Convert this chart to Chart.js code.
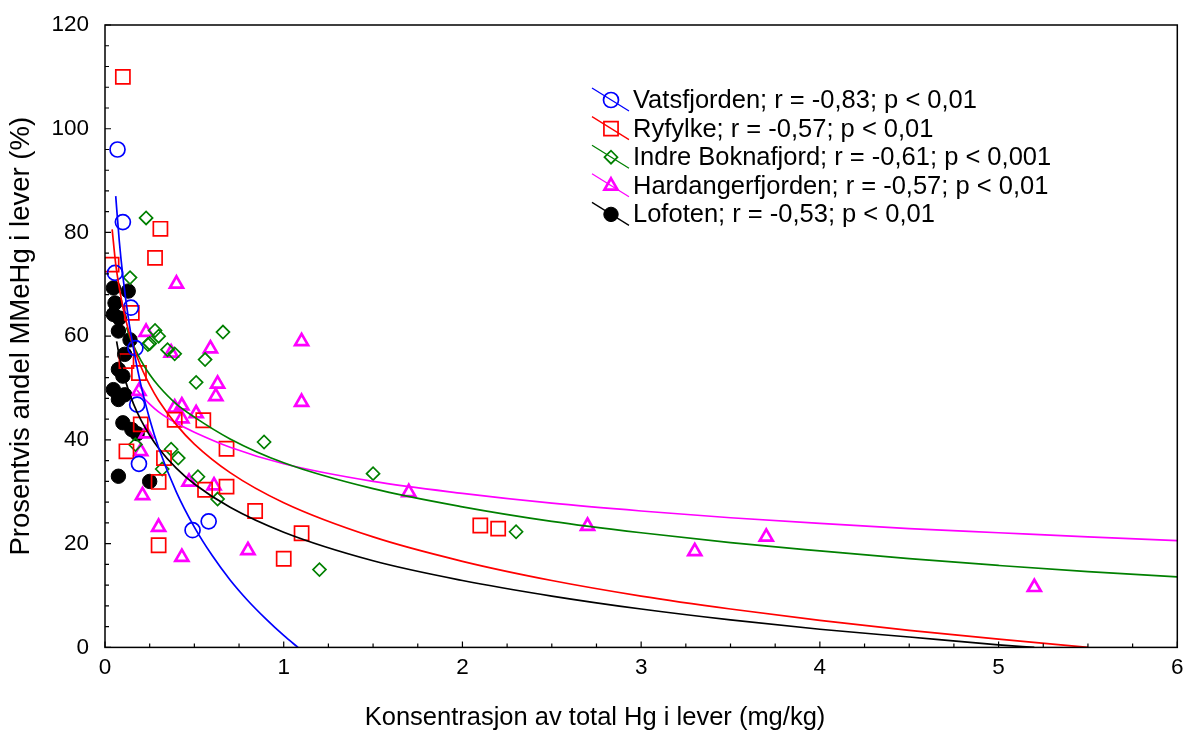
<!DOCTYPE html>
<html>
<head>
<meta charset="utf-8">
<script src="https://cdn.jsdelivr.net/npm/chart.js@4/dist/chart.umd.min.js"></script>
<style>
html, body { margin: 0; padding: 0; background: #fff; }
</style>
</head>
<body>
<canvas id="myChart" width="1189" height="733"></canvas>
<script>
// observed points (x = total Hg mg/kg, y = % MeHg)
var vatsX = [0.07, 0.10, 0.056, 0.145, 0.17, 0.18, 0.19, 0.49, 0.58];
var vatsY = [96, 82, 72.2, 65.5, 57.7, 46.8, 35.4, 22.6, 24.3];

var ryfX = [0.10, 0.31, 0.28, 0.037, 0.15, 0.19, 0.12, 0.39, 0.55, 0.20, 0.12, 0.33, 0.68, 0.30, 0.56, 0.68, 0.84, 1.10, 0.30, 1.00, 2.10, 2.20];
var ryfY = [110, 80.7, 75.1, 73.8, 64.5, 52.9, 55.2, 43.9, 43.8, 43, 37.8, 36.5, 38.3, 31.9, 30.4, 31.0, 26.3, 22.0, 19.7, 17.1, 23.5, 22.9];

var bokX = [0.23, 0.14, 0.28, 0.30, 0.24, 0.66, 0.35, 0.39, 0.56, 0.51, 0.25, 0.89, 0.17, 0.37, 0.41, 0.32, 0.52, 0.63, 1.20, 1.50, 2.30];
var bokY = [82.8, 71.3, 61.1, 60.0, 58.4, 60.8, 57.4, 56.6, 55.5, 51.1, 58.6, 39.6, 39.1, 38.2, 36.5, 34.4, 32.9, 28.6, 15.0, 33.5, 22.3];

var harX = [0.40, 0.23, 0.37, 0.59, 1.10, 0.63, 0.62, 0.39, 0.43, 0.43, 0.51, 0.19, 0.23, 0.20, 0.47, 0.61, 0.21, 0.30, 0.43, 0.80, 1.10, 1.70, 2.70, 3.30, 3.70, 5.20];
var harY = [70.1, 60.8, 56.8, 57.6, 59.0, 50.8, 48.4, 46.2, 46.6, 44.1, 45.1, 49.4, 41.2, 37.8, 31.9, 31.2, 29.3, 23.2, 17.4, 18.7, 47.3, 29.9, 23.4, 18.5, 21.3, 11.6];

var lofX = [0.047, 0.13, 0.056, 0.047, 0.08, 0.075, 0.14, 0.11, 0.075, 0.10, 0.047, 0.11, 0.075, 0.10, 0.15, 0.18, 0.075, 0.25];
var lofY = [69.3, 68.7, 66.4, 64.2, 63.5, 61.0, 59.3, 56.5, 53.6, 52.3, 49.7, 48.7, 47.8, 43.3, 42.0, 41.2, 33.0, 32.0];

// fitted curves
var vatsFitX = [0.06, 0.08, 0.1, 0.13, 0.16, 0.2, 0.25, 0.3, 0.4, 0.5, 0.6, 0.7, 0.8, 0.9, 1.0, 1.08];
var vatsFitY = [87.0, 78.3, 71.6, 63.7, 57.5, 50.7, 44.0, 38.5, 29.9, 23.2, 17.7, 13.0, 9.0, 5.5, 2.3, 0];

var ryfFitX = [0.04, 0.06, 0.08, 0.1, 0.13, 0.16, 0.2, 0.25, 0.3, 0.4, 0.5, 0.7, 1, 1.5, 2, 2.5, 3, 3.5, 4, 4.5, 5, 5.5];
var ryfFitY = [80.6, 73.9, 69.3, 65.6, 61.3, 57.9, 54.2, 50.6, 47.6, 42.9, 39.2, 33.7, 27.9, 21.3, 16.6, 12.9, 9.9, 7.4, 5.2, 3.3, 1.6, 0];

var bokFitX = [0.12, 0.15, 0.2, 0.25, 0.3, 0.4, 0.5, 0.7, 1, 1.5, 2, 2.5, 3, 3.5, 4, 4.5, 5, 5.5, 6];
var bokFitY = [61.7, 58.9, 55.4, 52.6, 50.4, 46.9, 44.4, 40.2, 35.6, 30.6, 27.1, 24.3, 22.1, 20.2, 18.6, 17.1, 15.8, 14.6, 13.6];

var harFitX = [0.18, 0.2, 0.25, 0.3, 0.4, 0.5, 0.7, 1, 1.5, 2, 2.5, 3, 3.5, 4, 4.5, 5, 5.5, 6];
var harFitY = [49.6, 48.7, 46.9, 45.4, 43.2, 41.5, 38.6, 35.4, 32.0, 29.7, 27.8, 26.3, 25.0, 23.9, 22.9, 22.1, 21.3, 20.6];

var lofFitX = [0.065, 0.08, 0.1, 0.13, 0.16, 0.2, 0.25, 0.3, 0.4, 0.5, 0.7, 1, 1.5, 2, 2.5, 3, 3.5, 4, 4.5, 5, 5.2];
var lofFitY = [59.0, 56.2, 53.2, 49.7, 46.9, 43.9, 40.9, 38.4, 34.5, 31.5, 27.0, 22.2, 16.7, 12.9, 9.9, 7.4, 5.3, 3.5, 2.0, 0.5, 0];

var seriesNames = [
    'Vatsfjorden; r = -0,83; p < 0,01',
    'Ryfylke; r = -0,57; p < 0,01',
    'Indre Boknafjord; r = -0,61; p < 0,001',
    'Hardangerfjorden; r = -0,57; p < 0,01',
    'Lofoten; r = -0,53; p < 0,01'
];

function pts(xs, ys) {
    return xs.map(function (x, i) { return { x: x, y: ys[i] }; });
}

var FONT = '"Liberation Sans", Arial, sans-serif';
Chart.defaults.font.family = FONT;
Chart.defaults.color = '#000';

var marks = [
    { style: 'circle', color: '#0000ff', fill: 'rgba(0,0,0,0)', radius: 7.5, width: 1.7 },
    { style: 'rect', color: '#ff0000', fill: 'rgba(0,0,0,0)', radius: 10, width: 1.7 },
    { style: 'rectRot', color: '#008000', fill: 'rgba(0,0,0,0)', radius: 6.5, width: 1.7 },
    { style: 'triangle', color: '#ff00ff', fill: 'rgba(0,0,0,0)', radius: 7.5, width: 2.7 },
    { style: 'circle', color: '#000000', fill: '#000000', radius: 7.2, width: 1 }
];
var pointSets = [pts(vatsX, vatsY), pts(ryfX, ryfY), pts(bokX, bokY), pts(harX, harY), pts(lofX, lofY)];
var fitSets = [pts(vatsFitX, vatsFitY), pts(ryfFitX, ryfFitY), pts(bokFitX, bokFitY), pts(harFitX, harFitY), pts(lofFitX, lofFitY)];

var datasets = [];
fitSets.forEach(function (d, i) {
    datasets.push({
        type: 'line', data: d, borderColor: marks[i].color, borderWidth: 1.7,
        pointRadius: 0, fill: false, cubicInterpolationMode: 'monotone', order: 1
    });
});
pointSets.forEach(function (d, i) {
    var m = marks[i];
    datasets.push({
        type: 'scatter', label: seriesNames[i], data: d, pointStyle: m.style,
        pointRadius: m.radius, pointHoverRadius: m.radius, borderColor: m.color,
        backgroundColor: m.fill, pointBorderWidth: m.width, order: 2
    });
});

function marker(ctx, m, x, y) {
    ctx.save();
    ctx.strokeStyle = m.color;
    ctx.fillStyle = m.fill;
    ctx.lineWidth = m.width;
    Chart.helpers.drawPoint(ctx, { pointStyle: m.style, radius: m.radius, rotation: 0, borderWidth: m.width }, x, y);
    ctx.restore();
}

// frame, inward ticks and the legend with crossing lines
var decor = {
    id: 'decor',
    afterDraw: function (chart) {
        var ctx = chart.ctx, a = chart.chartArea;
        var xs = chart.scales.x, ys = chart.scales.y;
        ctx.save();
        ctx.strokeStyle = '#000';
        ctx.lineWidth = 1.5;
        ctx.strokeRect(a.left, a.top, a.right - a.left, a.bottom - a.top);
        ctx.lineWidth = 1.2;
        ctx.beginPath();
        for (var v = 0; v <= 6.001; v += 0.25) {
            var px = xs.getPixelForValue(v);
            var len = Math.abs(v - Math.round(v)) < 0.01 ? 6 : 4;
            ctx.moveTo(px, a.bottom); ctx.lineTo(px, a.bottom - len);
        }
        for (var w = 0; w <= 120; w += 4) {
            var py = ys.getPixelForValue(w);
            var l2 = w % 20 === 0 ? 6 : 4;
            ctx.moveTo(a.left, py); ctx.lineTo(a.left + l2, py);
        }
        ctx.stroke();

        ctx.font = '25.5px ' + FONT;
        ctx.textBaseline = 'middle';
        ctx.fillStyle = '#000';
        for (var i = 0; i < seriesNames.length; i++) {
            var cy = 100 + i * 28.6, cx = 611;
            ctx.strokeStyle = marks[i].color;
            ctx.lineWidth = 1.3;
            ctx.beginPath();
            ctx.moveTo(cx - 19, cy - 12); ctx.lineTo(cx + 18, cy + 11);
            ctx.stroke();
            marker(ctx, marks[i], cx, cy);
            ctx.fillStyle = '#000';
            ctx.fillText(seriesNames[i], 633, cy + 1);
        }
        ctx.restore();
    }
};

var ctx = document.getElementById('myChart');
var myChart = new Chart(ctx, {
    type: 'scatter',
    data: { datasets: datasets },
    options: {
        responsive: false,
        animation: false,
        devicePixelRatio: 1,
        layout: { padding: { left: 12, right: 11, top: 25, bottom: 0 } },
        plugins: {
            legend: { display: false },
            tooltip: { enabled: false },
            title: {
                display: true, position: 'bottom', text: 'Konsentrasjon av total Hg i lever (mg/kg)',
                font: { size: 25.5, weight: 'normal' }, color: '#000', padding: { top: 4, bottom: 0 }
            }
        },
        scales: {
            x: {
                type: 'linear', min: 0, max: 6,
                ticks: { stepSize: 1, font: { size: 22.5 }, color: '#000', padding: 7 },
                grid: { display: false, drawTicks: false },
                border: { display: false },
                afterFit: function (s) { s.height = 51; s.paddingLeft = 0; s.paddingRight = 0; }
            },
            y: {
                type: 'linear', min: 0, max: 120,
                ticks: { stepSize: 20, font: { size: 22.5 }, color: '#000', padding: 16 },
                grid: { display: false, drawTicks: false },
                border: { display: false },
                title: {
                    display: true, text: 'Prosentvis andel MMeHg i lever (%)',
                    font: { size: 27.5 }, color: '#000', padding: { top: -7, bottom: 0 }
                },
                afterFit: function (s) { s.width = 93; s.paddingTop = 0; s.paddingBottom = 0; }
            }
        }
    },
    plugins: [decor]
});

window.chart = myChart;
</script>
</body>
</html>
